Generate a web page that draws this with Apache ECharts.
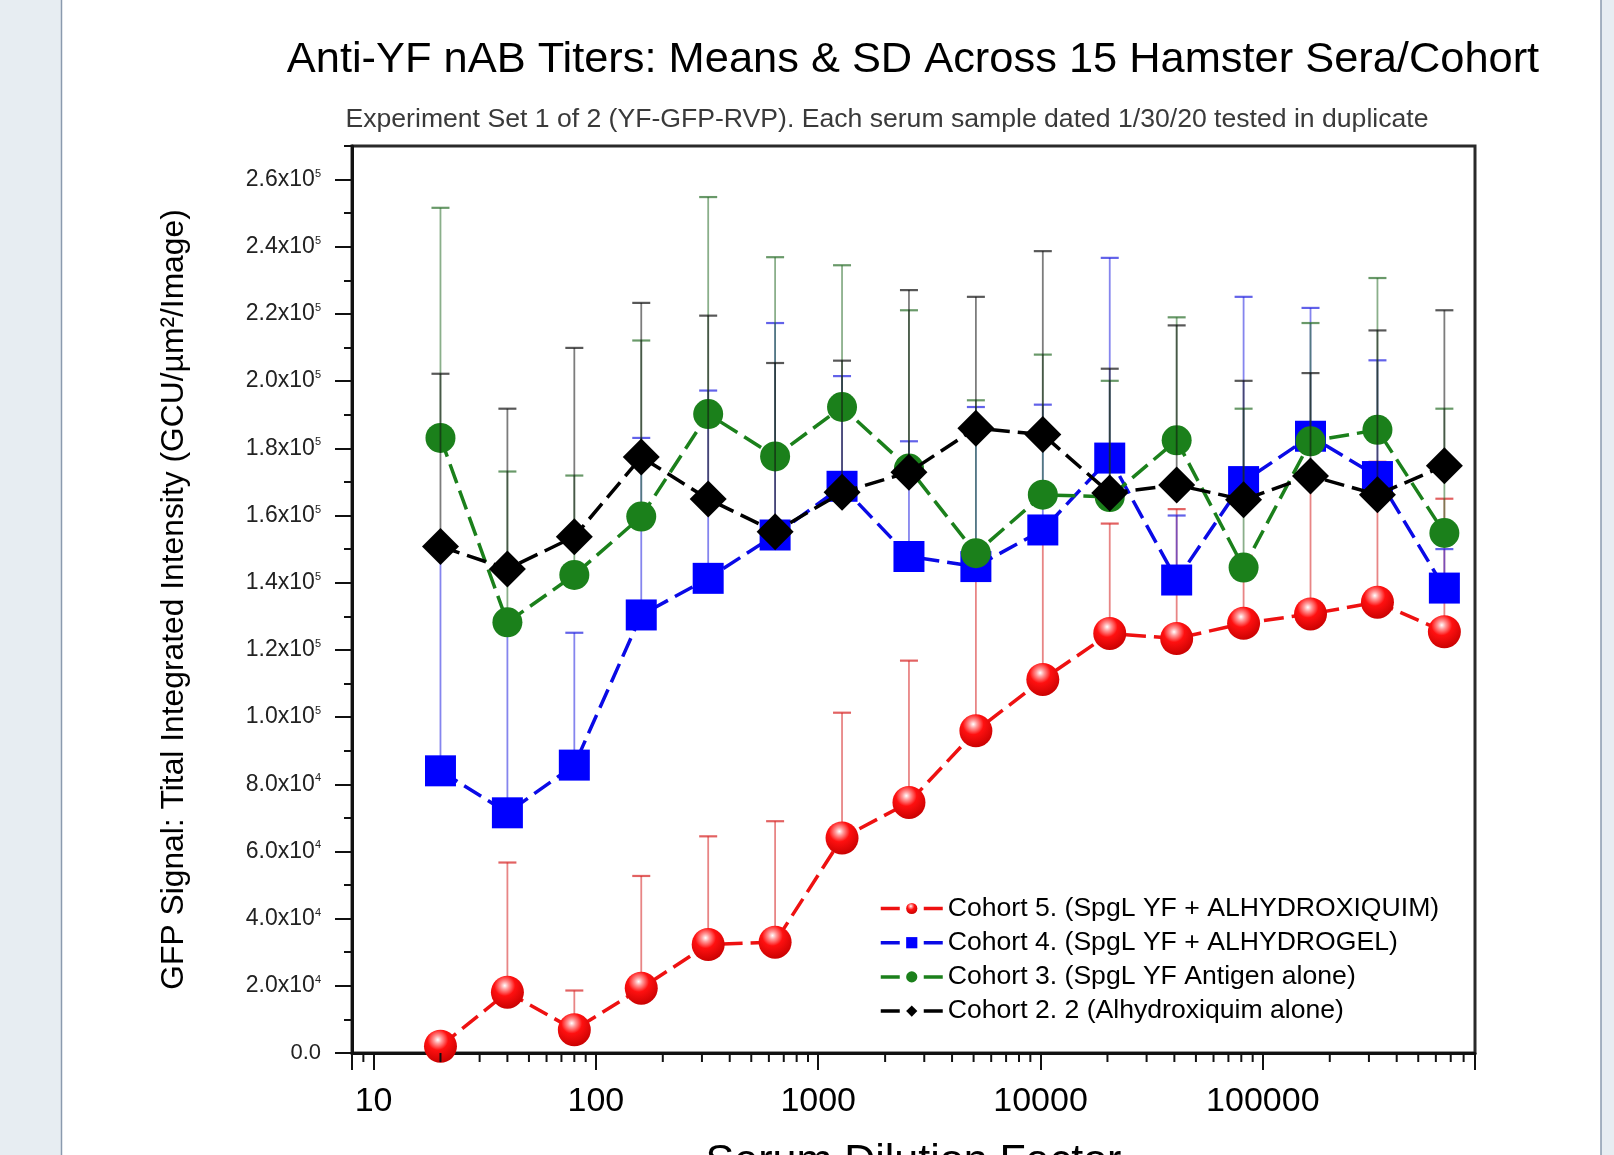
<!DOCTYPE html>
<html>
<head>
<meta charset="utf-8">
<script src="https://cdn.jsdelivr.net/npm/echarts/dist/echarts.min.js"></script>
<style>
html,body{margin:0;padding:0;background:#fff;}
#chart{width:1614px;height:1155px;}
</style>
</head>
<body>
<div id="chart"></div>
<script>
// ---- Data ----
const dilutions = [20, 40, 80, 160, 320, 640, 1280, 2560, 5120, 10240, 20480, 40960, 81920, 163840, 327680, 655360];

const cohort5Mean = [2000, 18100, 6900, 19300, 32300, 33000, 64000, 74600, 95900, 111200, 124900, 123400, 127900, 130700, 134200, 125400];
const cohort5SD   = [1000, 38600, 11700, 33400, 32200, 36000, 37300, 42200, 52100, 40800, 32700, 38500, 20100, 39300, 41800, 39600];

const cohort4Mean = [84000, 71500, 85700, 130400, 141300, 154200, 168700, 147800, 144800, 155700, 177100, 140800, 170100, 183600, 171600, 138400];
const cohort4SD   = [66500, 54000, 39400, 52700, 55900, 63100, 32800, 34300, 47500, 37300, 59600, 19200, 55000, 38200, 34600, 11600];

const cohort3Mean = [183100, 128200, 142300, 159700, 190200, 177600, 192300, 174000, 148800, 166200, 165500, 182400, 144500, 182100, 185500, 154800];
const cohort3SD   = [68500, 44900, 29600, 52400, 64600, 59300, 42200, 47100, 45500, 41700, 34600, 36600, 47300, 35200, 45200, 37000];

const cohort2Mean = [150800, 144100, 153700, 177400, 164900, 155200, 166900, 172900, 186000, 184100, 166700, 169100, 164700, 171800, 166200, 174800];
const cohort2SD   = [51400, 47700, 56200, 45900, 54600, 50200, 39200, 54200, 39100, 54600, 37000, 47500, 35400, 30600, 48900, 46300];

const seriesNames = [
  'Cohort 5. (SpgL YF + ALHYDROXIQUIM)',
  'Cohort 4. (SpgL YF + ALHYDROGEL)',
  'Cohort 3. (SpgL YF Antigen alone)',
  'Cohort 2. 2 (Alhydroxiquim alone)'
];
const xTickLabels = ['10', '100', '1000', '10000', '100000'];

const titleText = 'Anti-YF nAB Titers: Means & SD Across 15 Hamster Sera/Cohort';
const subtitleText = 'Experiment Set 1 of 2 (YF-GFP-RVP). Each serum sample dated 1/30/20 tested in duplicate';
const yAxisTitle = 'GFP Signal: Tital Integrated Intensity (GCU/\u00B5m\u00B2/Image)';
const xAxisTitle = 'Serum Dilution Factor';

// ---- minor log ticks on x axis (axis decoration) ----
const xMinorTicks = [9];
for (let d = 10; d <= 100000; d *= 10) {
  for (let k = 2; k <= 9; k++) { if (k * d < 900000) xMinorTicks.push(k * d); }
}

const FONT = "'Liberation Sans', Arial, Helvetica, sans-serif";

function pairs(means) { return dilutions.map((x, i) => [x, means[i]]); }
function errRows(means, sds) { return dilutions.map((x, i) => [x, means[i], means[i] + sds[i]]); }

function errSeries(name, means, sds, color, z) {
  return {
    name: name, type: 'custom', silent: true, z: z, clip: false,
    encode: { x: 0, y: [1, 2] },
    data: errRows(means, sds),
    renderItem: function (params, api) {
      const x = api.value(0), m = api.value(1), t = api.value(2);
      const p0 = api.coord([x, m]);
      const p1 = api.coord([x, t]);
      const hw = 9;
      return {
        type: 'group',
        children: [
          { type: 'line', shape: { x1: p0[0], y1: p0[1], x2: p1[0], y2: p1[1] }, style: { stroke: color, lineWidth: 1.8, opacity: 0.55 } },
          { type: 'line', shape: { x1: p1[0] - hw, y1: p1[1], x2: p1[0] + hw, y2: p1[1] }, style: { stroke: color, lineWidth: 2.2, opacity: 0.7 } }
        ]
      };
    }
  };
}

const chart = echarts.init(document.getElementById('chart'), null, { renderer: 'canvas' });

const redBall = new echarts.graphic.RadialGradient(0.42, 0.3, 0.75, [
  { offset: 0, color: '#ffffff' },
  { offset: 0.16, color: '#ff9a9a' },
  { offset: 0.42, color: '#ff1010' },
  { offset: 1, color: '#c40000' }
]);

const option = {
  animation: false,
  backgroundColor: '#ffffff',
  textStyle: { fontFamily: FONT },
  graphic: [
    { type: 'rect', shape: { x: 0, y: 0, width: 61, height: 1155 }, style: { fill: '#e7edf2' }, z: -10 },
    { type: 'line', shape: { x1: 61.5, y1: 0, x2: 61.5, y2: 1155 }, style: { stroke: '#8a9aae', lineWidth: 1.5 }, z: -10 },
    { type: 'rect', shape: { x: 1601, y: 0, width: 13, height: 1155 }, style: { fill: '#e7edf2' }, z: -10 },
    { type: 'line', shape: { x1: 1601, y1: 0, x2: 1601, y2: 1155 }, style: { stroke: '#8a9aae', lineWidth: 1.5 }, z: -10 }
  ],
  title: [
    { text: titleText, left: 913, top: 39, textAlign: 'center', padding: 0,
      textStyle: { fontFamily: FONT, fontSize: 43.4, fontWeight: 'normal', color: '#000' } },
    { text: subtitleText, left: 887, top: 106, textAlign: 'center', padding: 0,
      textStyle: { fontFamily: FONT, fontSize: 26.6, fontWeight: 'normal', color: '#3a3a3a' } }
  ],
  legend: {
    data: seriesNames,
    orient: 'vertical',
    left: 874, top: 890,
    itemWidth: 62, itemHeight: 14, itemGap: 7.2,
    textStyle: { fontFamily: FONT, fontSize: 26.6, color: '#000' },
    lineStyle: { type: [19, 24], width: 3.5 },
    selectedMode: false
  },
  grid: {
    left: 352, right: 139, top: 146, bottom: 102,
    show: true, borderColor: '#2a2a2a', borderWidth: 3,
    outerBoundsMode: 'none', containLabel: false
  },
  xAxis: {
    type: 'log', logBase: 10, min: 8, max: 900000,
    axisLine: { lineStyle: { color: '#111', width: 3 } },
    axisTick: { length: 17, lineStyle: { color: '#111', width: 2 } },
    minorTick: { show: false },
    splitLine: { show: false },
    axisLabel: {
      fontFamily: FONT, fontSize: 34, color: '#000', margin: 32,
      showMinLabel: true, showMaxLabel: true,
      formatter: function (v) {
        const l = Math.log10(v);
        if (Math.abs(l - Math.round(l)) > 1e-6) return '';
        const s = String(Math.round(Math.pow(10, Math.round(l))));
        return xTickLabels.indexOf(s) >= 0 ? s : '';
      }
    },
    name: xAxisTitle, nameLocation: 'middle', nameGap: 88,
    nameTextStyle: { fontFamily: FONT, fontSize: 43, color: '#000' }
  },
  yAxis: [
    {
      type: 'value', position: 'left', min: 0, max: 270000, interval: 20000,
      axisLine: { show: true, lineStyle: { color: '#111', width: 3 } },
      axisTick: { show: true, length: 17, lineStyle: { color: '#111', width: 2 } },
      splitLine: { show: false },
      axisLabel: {
        margin: 31, color: '#222', showMaxLabel: false,
        formatter: function (v) {
          if (v === 0) return '{z|0.0}';
          if (v % 20000 !== 0) return '';
          const e = Math.floor(Math.log10(v) + 1e-9);
          const m = v / Math.pow(10, e);
          return '{m|' + m.toFixed(1) + 'x10}{s|' + e + '}';
        },
        rich: {
          z: { fontFamily: FONT, fontSize: 22, color: '#222' },
          m: { fontFamily: FONT, fontSize: 23, color: '#222' },
          s: { fontFamily: FONT, fontSize: 11, color: '#222', verticalAlign: 'top', padding: [0, 0, 11, 0] }
        }
      },
      name: yAxisTitle, nameLocation: 'middle', nameRotate: 90, nameGap: 162,
      nameTextStyle: { fontFamily: FONT, fontSize: 31.8, color: '#000' }
    },
    {
      type: 'value', position: 'left', offset: 0, min: 0, max: 270000, interval: 10000,
      axisLine: { show: false },
      axisTick: { show: true, length: 8, lineStyle: { color: '#111', width: 2 } },
      axisLabel: { show: false },
      splitLine: { show: false }
    }
  ],
  series: [
    {
      name: 'xMinorTicks', type: 'custom', silent: true, z: 20, clip: false,
      encode: { x: 0, y: 1 },
      data: xMinorTicks.map(v => [v, 0]),
      renderItem: function (params, api) {
        const p = api.coord([api.value(0), 0]);
        return { type: 'line', shape: { x1: p[0], y1: p[1], x2: p[0], y2: p[1] + 9 }, style: { stroke: '#111', lineWidth: 2 } };
      }
    },
    errSeries('err5', cohort5Mean, cohort5SD, '#d62020', 1),
    {
      name: seriesNames[0], type: 'line', z: 2, data: pairs(cohort5Mean),
      symbol: 'circle', symbolSize: 33,
      lineStyle: { color: '#ee1111', width: 3.5, type: [20, 8] },
      itemStyle: { color: redBall }
    },
    errSeries('err4', cohort4Mean, cohort4SD, '#2020e0', 3),
    {
      name: seriesNames[1], type: 'line', z: 4, data: pairs(cohort4Mean),
      symbol: 'rect', symbolSize: 31,
      lineStyle: { color: '#0a0ae6', width: 3.5, type: [20, 8] },
      itemStyle: { color: '#0000ff' }
    },
    errSeries('err3', cohort3Mean, cohort3SD, '#2a6e2a', 5),
    {
      name: seriesNames[2], type: 'line', z: 6, data: pairs(cohort3Mean),
      symbol: 'circle', symbolSize: 30,
      lineStyle: { color: '#1b801b', width: 3.5, type: [20, 8] },
      itemStyle: { color: '#1b801b' }
    },
    errSeries('err2', cohort2Mean, cohort2SD, '#111111', 7),
    {
      name: seriesNames[3], type: 'line', z: 8, data: pairs(cohort2Mean),
      symbol: 'diamond', symbolSize: 37,
      lineStyle: { color: '#000000', width: 3.5, type: [20, 8] },
      itemStyle: { color: '#000000' }
    }
  ]
};
chart.setOption(option);
</script>
</body>
</html>
